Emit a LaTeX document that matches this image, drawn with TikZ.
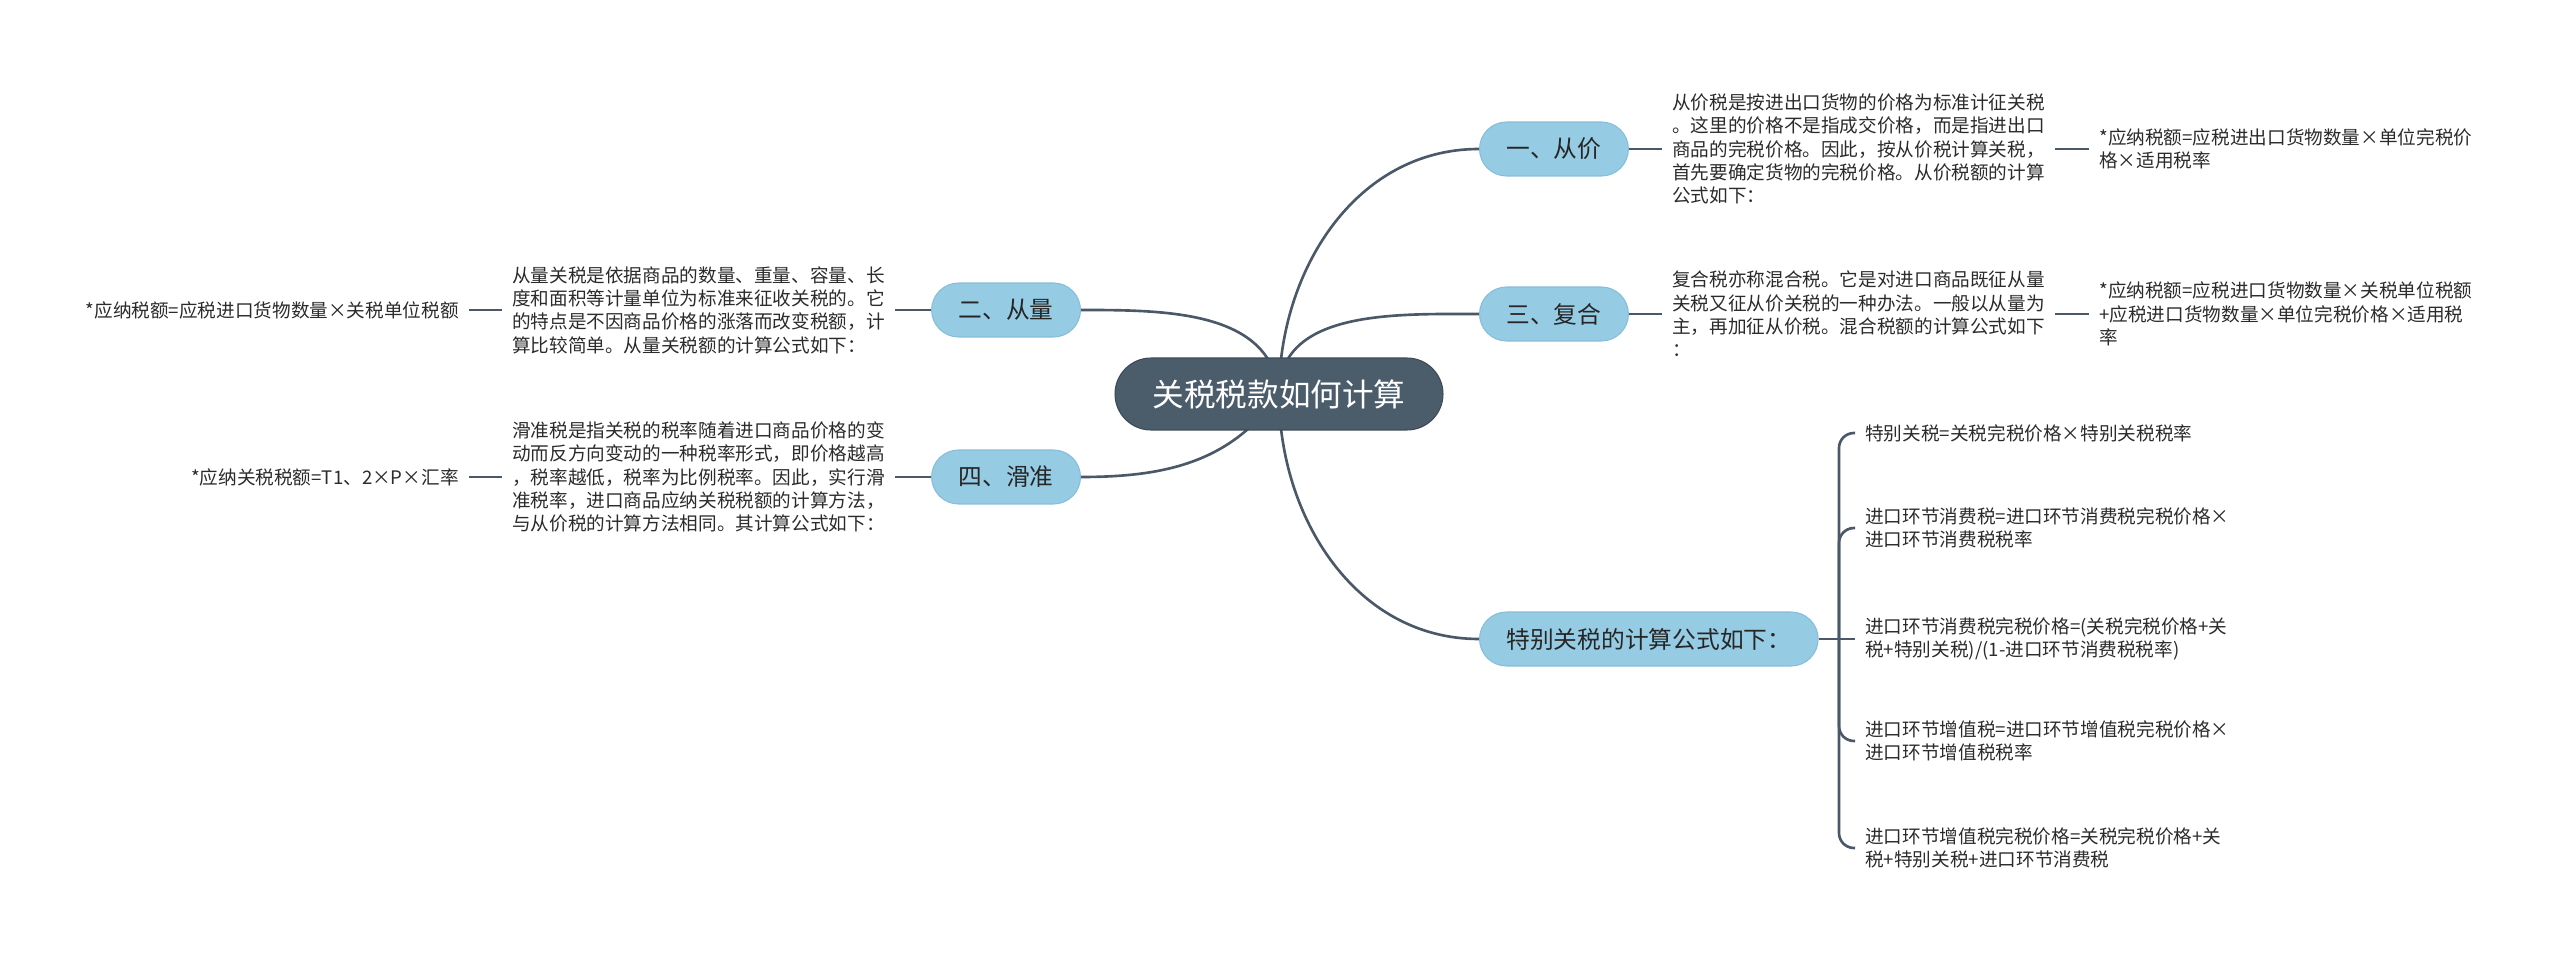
\documentclass[tikz,border=0pt]{standalone}
\usepackage{fontspec}
\newfontfamily\cjk{Noto Sans CJK SC}
\usetikzlibrary{positioning,calc,backgrounds}
\definecolor{rootfill}{HTML}{4B5C6B}
\definecolor{branchfill}{HTML}{96CBE4}
\definecolor{branchedge}{HTML}{86BDD9}
\definecolor{linkcol}{HTML}{4A5867}
\definecolor{txtcol}{HTML}{2B2B2B}

\begin{document}
\begin{tikzpicture}[x=0.02cm,y=0.02cm,
  root/.style={draw=rootfill!80!black,fill=rootfill,text=white,line width=0.6pt,
    rounded corners=0.72cm,minimum height=1.44cm,inner xsep=0.75cm,
    font=\cjk\fontsize{18}{22}\selectfont},
  branch/.style={draw=branchedge,fill=branchfill,text=black!85,line width=0.6pt,
    rounded corners=0.54cm,minimum height=1.08cm,inner xsep=0.54cm,
    font=\cjk\fontsize{13.5}{16}\selectfont},
  leaf/.style={align=left,inner sep=0.2cm,text=txtcol,
    font=\cjk\fontsize{10.6}{13.3}\selectfont},
  link/.style={draw=linkcol,line width=1.5pt}]
\useasboundingbox (0,0) rectangle (2560,-959);
\def\rx{1479}\def\lx{1081}
%%% Root:
\node[root] (root) at (1279,-394) {关税税款如何计算};
%%% Right branches:
\node[branch,anchor=west] (b1) at (\rx,-149) {一、从价};
\node[branch,anchor=west] (b3) at (\rx,-314) {三、复合};
\node[branch,anchor=west] (b5) at (\rx,-639) {特别关税的计算公式如下：};
%%% Left branches:
\node[branch,anchor=east] (b2) at (\lx,-310) {二、从量};
\node[branch,anchor=east] (b4) at (\lx,-477) {四、滑准};
%% texts and formulas
\node[leaf,anchor=west] (t1) at (1662,-149) {从价税是按进出口货物的价格为标准计征关税\\。这里的价格不是指成交价格，而是指进出口\\商品的完税价格。因此，按从价税计算关税，\\首先要确定货物的完税价格。从价税额的计算\\公式如下：};
\node[leaf,anchor=west] (f1) at (2089,-149) {*应纳税额=应税进出口货物数量×单位完税价\\格×适用税率};
\node[leaf,anchor=west] (t3) at (1662,-314) {复合税亦称混合税。它是对进口商品既征从量\\关税又征从价关税的一种办法。一般以从量为\\主，再加征从价税。混合税额的计算公式如下\\：};
\node[leaf,anchor=west] (f3) at (2089,-314) {*应纳税额=应税进口货物数量×关税单位税额\\+应税进口货物数量×单位完税价格×适用税\\率};
\node[leaf,anchor=east] (t2) at (895,-310) {从量关税是依据商品的数量、重量、容量、长\\度和面积等计量单位为标准来征收关税的。它\\的特点是不因商品价格的涨落而改变税额，计\\算比较简单。从量关税额的计算公式如下：};
\node[leaf,anchor=east] (f2) at (469,-310) {*应纳税额=应税进口货物数量×关税单位税额};
\node[leaf,anchor=east] (t4) at (895,-477) {滑准税是指关税的税率随着进口商品价格的变\\动而反方向变动的一种税率形式，即价格越高\\，税率越低，税率为比例税率。因此，实行滑\\准税率，进口商品应纳关税税额的计算方法，\\与从价税的计算方法相同。其计算公式如下：};
\node[leaf,anchor=east] (f4) at (469,-477) {*应纳关税税额=T1、2×P×汇率};
%% special tariff formulas
\node[leaf,anchor=west] (s1) at (1855,-433) {特别关税=关税完税价格×特别关税税率};
\node[leaf,anchor=west] (s2) at (1855,-528) {进口环节消费税=进口环节消费税完税价格×\\进口环节消费税税率};
\node[leaf,anchor=west] (s3) at (1855,-639) {进口环节消费税完税价格=(关税完税价格+关\\税+特别关税)/(1-进口环节消费税税率)};
\node[leaf,anchor=west] (s4) at (1855,-741) {进口环节增值税=进口环节增值税完税价格×\\进口环节增值税税率};
\node[leaf,anchor=west] (s5) at (1855,-848) {进口环节增值税完税价格=关税完税价格+关\\税+特别关税+进口环节消费税};
%%% Curves from the root:
\begin{scope}[on background layer]
\draw[link] (root.center) to[out=90,in=180] (b1.west);
\draw[link] (root.center) to[out=90,in=180] (b3.west);
\draw[link] (root.center) to[out=-90,in=180] (b5.west);
\draw[link] (root.center) to[out=95,in=0] (b2.east);
\draw[link] (root.center) to[out=235,in=0] (b4.east);
\end{scope}
%% short links
\draw[link] (b1.east) -- (t1.west) (t1.east) -- (f1.west);
\draw[link] (b3.east) -- (t3.west) (t3.east) -- (f3.west);
\draw[link] (b2.west) -- (t2.east) (t2.west) -- (f2.east);
\draw[link] (b4.west) -- (t4.east) (t4.west) -- (f4.east);
%% bracket
\coordinate (jn) at (1839,-639);
\draw[link] (b5.east) -- (jn) -- (s3.west);
\foreach \s in {s1,s2,s4,s5}
  \draw[link,rounded corners=0.3cm] (jn) |- (\s.west);
\end{tikzpicture}
\end{document}
